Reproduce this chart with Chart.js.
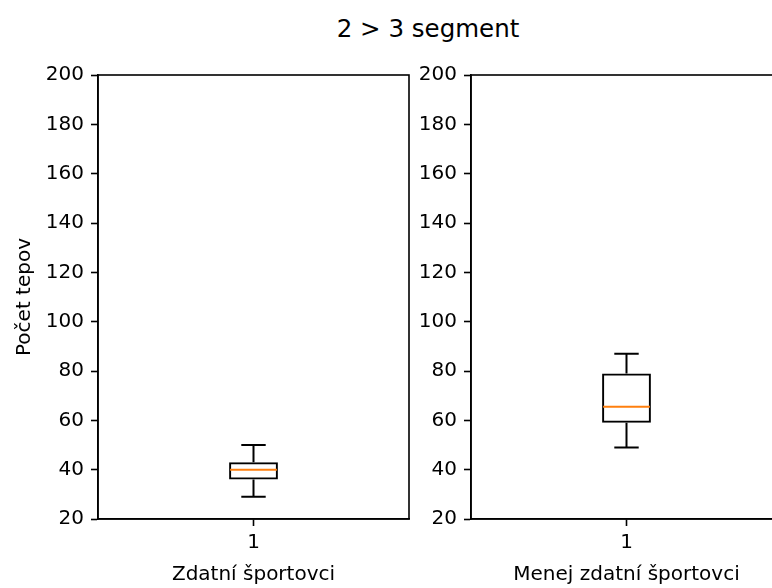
<!DOCTYPE html>
<html>
<head>
<meta charset="utf-8">
<script src="https://cdn.jsdelivr.net/npm/chart.js@4/dist/chart.umd.min.js"></script>
<style>
  html, body { margin: 0; padding: 0; background: #fff; overflow: hidden; }
  body { width: 772px; height: 588px; position: relative; }
  #title { position: absolute; left: 228px; width: 400px; top: 14px; text-align: center;
           font-family: 'DejaVu Sans', sans-serif; font-size: 24.5px; color: #000; line-height: 30px; }
  .panel { position: absolute; top: 0; width: 440px; height: 588px; }
  #p1 { left: 0; }
  #p2 { left: 373px; }
</style>
</head>
<body>
<div id="title">2 &gt; 3 segment</div>
<div class="panel" id="p1"><canvas id="c1" width="440" height="588"></canvas></div>
<div class="panel" id="p2"><canvas id="c2" width="440" height="588"></canvas></div>
<script>
// Heart-rate summaries (beats) for each group, segment 2 > 3
const categories = ['1'];
const groupNames = ['Zdatní športovci', 'Menej zdatní športovci'];
const yTicks = [20, 40, 60, 80, 100, 120, 140, 160, 180, 200];
const fitWhiskerLow = [29];
const fitQ1 = [36];
const fitMedian = [40];
const fitQ3 = [43];
const fitWhiskerHigh = [50];
const lessFitWhiskerLow = [49];
const lessFitQ1 = [59];
const lessFitMedian = [65.5];
const lessFitQ3 = [79];
const lessFitWhiskerHigh = [87];

const FONT = "'DejaVu Sans', sans-serif";
const BOX_FRACTION = 0.157;

// Whiskers, caps, median line and the four-sided frame
const boxDecor = {
  id: 'boxDecor',
  afterDatasetsDraw(chart, args, opts) {
    const {ctx, chartArea, scales: {x, y}} = chart;
    const half = chartArea.width * BOX_FRACTION / 2;
    ctx.save();
    categories.forEach((c, i) => {
      const cx = x.getPixelForValue(i);
      const yLo = y.getPixelForValue(opts.low[i]);
      const yQ1 = y.getPixelForValue(opts.q1[i]);
      const yMed = y.getPixelForValue(opts.med[i]);
      const yQ3 = y.getPixelForValue(opts.q3[i]);
      const yHi = y.getPixelForValue(opts.high[i]);
      ctx.strokeStyle = '#000';
      ctx.lineWidth = 2;
      ctx.beginPath();
      ctx.moveTo(cx, yQ3); ctx.lineTo(cx, yHi);
      ctx.moveTo(cx, yQ1); ctx.lineTo(cx, yLo);
      ctx.moveTo(cx - half / 2, yHi); ctx.lineTo(cx + half / 2, yHi);
      ctx.moveTo(cx - half / 2, yLo); ctx.lineTo(cx + half / 2, yLo);
      ctx.stroke();
      ctx.strokeStyle = '#ff7f0e';
      ctx.beginPath();
      ctx.moveTo(cx - half + 1, yMed); ctx.lineTo(cx + half - 1, yMed);
      ctx.stroke();
    });
    ctx.strokeStyle = '#000';
    ctx.lineWidth = 1.6;
    ctx.strokeRect(chartArea.left, chartArea.top, chartArea.width, chartArea.height);
    ctx.restore();
  }
};

function makePanel(id, xTitle, yTitle, low, q1, med, q3, high) {
  return new Chart(document.getElementById(id), {
    type: 'bar',
    data: {
      labels: categories,
      datasets: [{
        data: categories.map((c, i) => [q1[i], q3[i]]),
        backgroundColor: 'rgba(0,0,0,0)',
        borderColor: '#000',
        borderWidth: 2,
        borderSkipped: false,
        barPercentage: BOX_FRACTION,
        categoryPercentage: 1
      }]
    },
    options: {
      responsive: false,
      animation: false,
      events: [],
      layout: { padding: { top: 75, right: 31, bottom: 0, left: 0 } },
      plugins: {
        legend: { display: false },
        tooltip: { enabled: false },
        boxDecor: { low, q1, med, q3, high }
      },
      scales: {
        x: {
          afterFit(s) { s.height = 69; },
          grid: { display: true, drawOnChartArea: false, offset: false, tickLength: 7, tickWidth: 1.6, tickColor: '#000' },
          border: { display: true, color: '#000', width: 1.6 },
          ticks: { color: '#000', font: { family: FONT, size: 20 }, padding: 5, maxRotation: 0 },
          title: { display: true, text: xTitle, color: '#000', font: { family: FONT, size: 20 }, padding: { top: 0, bottom: 1 } }
        },
        y: {
          min: 20, max: 200,
          afterFit(s) { s.width = 98; },
          afterBuildTicks(s) { s.ticks = yTicks.map(v => ({ value: v })); },
          grid: { display: true, drawOnChartArea: false, tickLength: 7, tickWidth: 1.6, tickColor: '#000' },
          border: { display: true, color: '#000', width: 1.6 },
          ticks: { color: '#000', font: { family: FONT, size: 20 }, padding: 7 },
          title: { display: !!yTitle, text: yTitle || '', color: '#000', font: { family: FONT, size: 20 }, padding: { top: 13, bottom: 0 } }
        }
      }
    },
    plugins: [boxDecor]
  });
}

makePanel('c1', groupNames[0], 'Počet tepov', fitWhiskerLow, fitQ1, fitMedian, fitQ3, fitWhiskerHigh);
makePanel('c2', groupNames[1], '', lessFitWhiskerLow, lessFitQ1, lessFitMedian, lessFitQ3, lessFitWhiskerHigh);
</script>
</body>
</html>
